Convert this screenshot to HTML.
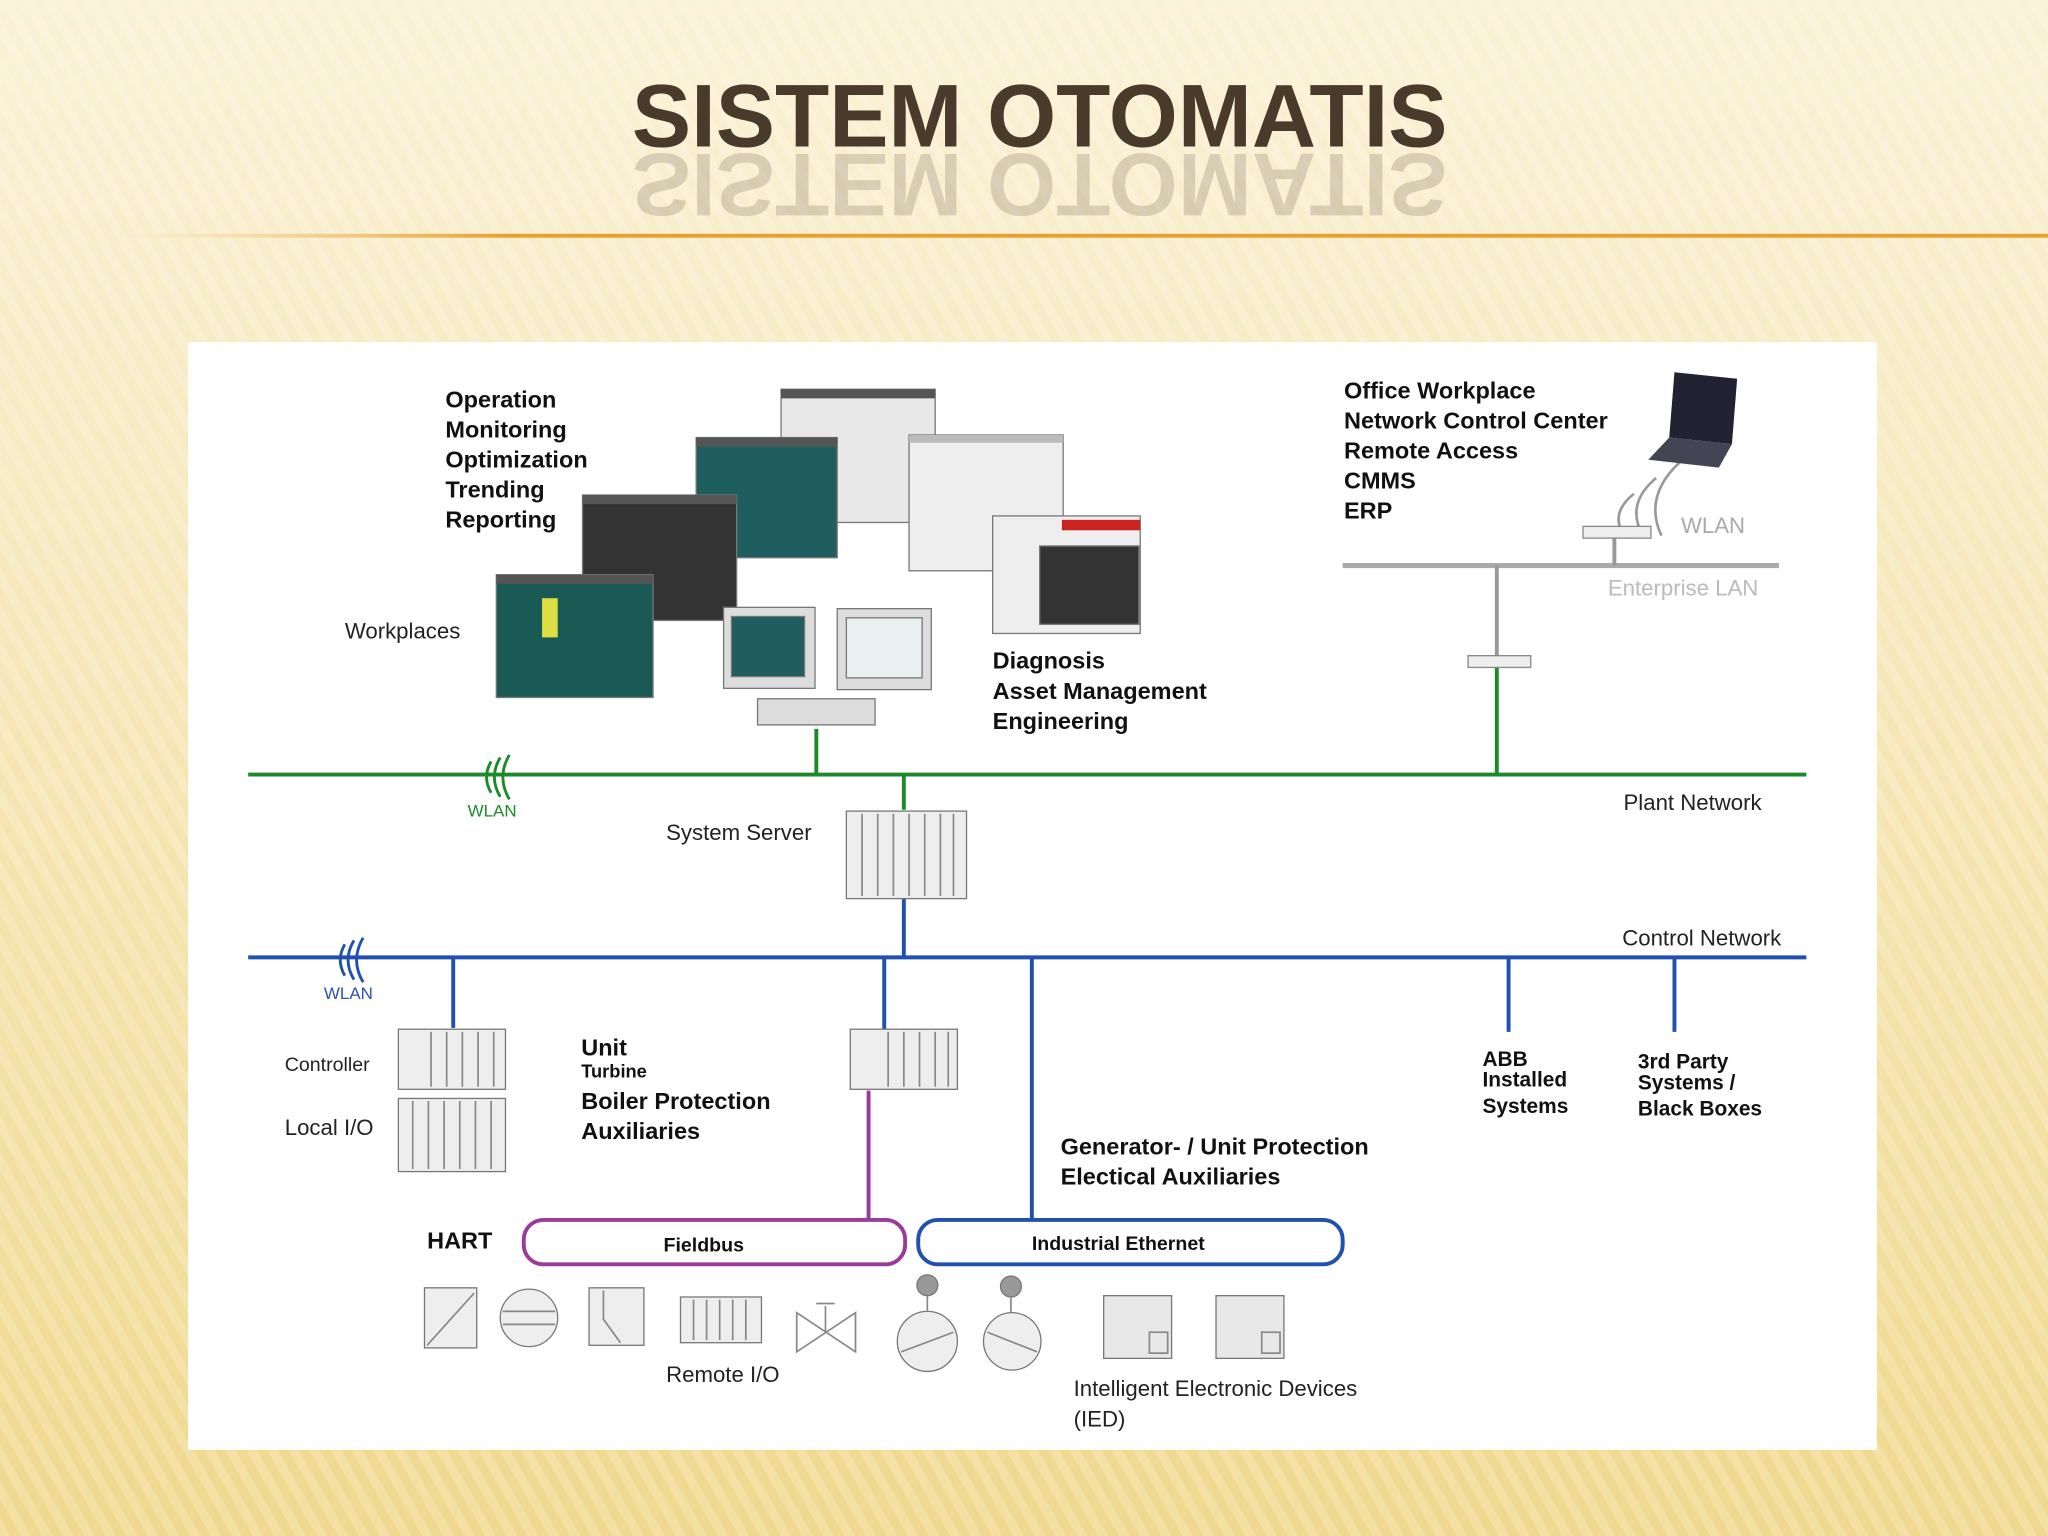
<!DOCTYPE html>
<html><head><meta charset="utf-8"><style>
html,body{margin:0;padding:0;width:2048px;height:1536px;overflow:hidden}
svg{display:block}
text{font-family:"Liberation Sans",Arial,sans-serif}
</style></head><body>
<svg width="2048" height="1536" viewBox="0 0 1568 1176" xmlns="http://www.w3.org/2000/svg">
<defs>
<linearGradient id="bg" x1="0" y1="0" x2="0" y2="1">
<stop offset="0" stop-color="#faf1d6"/><stop offset="0.5" stop-color="#f6e6b4"/><stop offset="1" stop-color="#f0d98e"/></linearGradient>
<pattern id="st" width="14" height="14" patternUnits="userSpaceOnUse" patternTransform="rotate(-30)">
<rect width="7" height="14" fill="#ffffff" opacity="0.18"/></pattern>
<linearGradient id="ol" x1="0" y1="0" x2="1" y2="0"><stop offset="0" stop-color="#f0c070" stop-opacity="0"/><stop offset="0.2" stop-color="#e8a030"/><stop offset="1" stop-color="#e8a030"/></linearGradient>
</defs>
<rect width="1568" height="1176" fill="url(#bg)"/>
<rect width="1568" height="1176" fill="url(#st)"/>
<text x="796" y="112" text-anchor="middle" font-size="68" font-weight="bold" fill="#4a3a2c">SISTEM OTOMATIS</text>
<g transform="translate(0,236) scale(1,-1)"><text x="796" y="118" text-anchor="middle" font-size="68" font-weight="bold" fill="#5a4a3a" opacity="0.2">SISTEM OTOMATIS</text></g>
<rect x="95" y="179" width="1473" height="3" fill="url(#ol)"/>
<rect x="144" y="262" width="1293" height="848" fill="#fff"/>

<g font-weight="bold" font-size="18" fill="#111">
<text x="341" y="312">Operation</text><text x="341" y="335">Monitoring</text><text x="341" y="358">Optimization</text><text x="341" y="381">Trending</text><text x="341" y="404">Reporting</text>
<text x="1029" y="305">Office Workplace</text><text x="1029" y="328">Network Control Center</text><text x="1029" y="351">Remote Access</text><text x="1029" y="374">CMMS</text><text x="1029" y="397">ERP</text>
<text x="760" y="512">Diagnosis</text><text x="760" y="535">Asset Management</text><text x="760" y="558">Engineering</text>
<text x="445" y="808">Unit</text><text x="445" y="825" font-size="14">Turbine</text><text x="445" y="849">Boiler Protection</text><text x="445" y="872">Auxiliaries</text>
<text x="812" y="884">Generator- / Unit Protection</text><text x="812" y="907">Electical Auxiliaries</text>
<text x="1135" y="816" font-size="16">ABB</text><text x="1135" y="832" font-size="16">Installed</text><text x="1135" y="852" font-size="16">Systems</text>
<text x="1254" y="818" font-size="16">3rd Party</text><text x="1254" y="834" font-size="16">Systems /</text><text x="1254" y="854" font-size="16">Black Boxes</text>
<text x="327" y="956">HART</text>
<text x="508" y="958" font-size="15">Fieldbus</text><text x="790" y="957" font-size="15">Industrial Ethernet</text>
</g>
<g font-size="17" fill="#222">
<text x="264" y="489">Workplaces</text>
<text x="510" y="643">System Server</text>
<text x="1243" y="620">Plant Network</text>
<text x="1242" y="724">Control Network</text>
<text x="218" y="820" font-size="15">Controller</text>
<text x="218" y="869">Local I/O</text>
<text x="510" y="1058">Remote I/O</text>
<text x="822" y="1069">Intelligent Electronic Devices</text>
<text x="822" y="1092">(IED)</text>
<text x="1287" y="408" fill="#aaa">WLAN</text>
<text x="1231" y="456" fill="#bbb">Enterprise LAN</text>
</g>
<text x="358" y="625" font-size="13" fill="#1a8a2a">WLAN</text>
<text x="248" y="765" font-size="13" fill="#3050b0">WLAN</text>

<g fill="none">
<line x1="1028" y1="433" x2="1362" y2="433" stroke="#aaa" stroke-width="4"/>
<line x1="1146" y1="433" x2="1146" y2="503" stroke="#999" stroke-width="3"/>
<line x1="1236" y1="410" x2="1236" y2="433" stroke="#999" stroke-width="3"/>
<g stroke="#1a8a2a" stroke-width="3">
<line x1="190" y1="593" x2="1383" y2="593"/><line x1="625" y1="558" x2="625" y2="593"/><line x1="692" y1="593" x2="692" y2="620"/><line x1="1146" y1="510" x2="1146" y2="593"/>
<path d="M376 583 q-7 12 0 24 M383 580 q-9 15 0 30 M390 578 q-10 17 0 34" stroke-width="2.2"/>
</g>
<g stroke="#2050b0" stroke-width="3">
<line x1="190" y1="733" x2="1383" y2="733"/><line x1="692" y1="688" x2="692" y2="733"/>
<line x1="347" y1="733" x2="347" y2="787"/><line x1="677" y1="733" x2="677" y2="788"/><line x1="790" y1="733" x2="790" y2="935"/>
<line x1="1155" y1="733" x2="1155" y2="790"/><line x1="1282" y1="733" x2="1282" y2="790"/>
<path d="M264 723 q-7 12 0 24 M271 720 q-9 15 0 30 M278 718 q-10 17 0 34" stroke-width="2.2"/>
</g>
<line x1="665" y1="835" x2="665" y2="935" stroke="#9a3a9a" stroke-width="3"/>
<rect x="401" y="934" width="292" height="34" rx="15" stroke="#9a3a9a" stroke-width="3"/>
<rect x="703" y="934" width="325" height="34" rx="15" stroke="#2050b0" stroke-width="3"/>
<path d="M1245 412 q-14 -18 6 -34 M1258 410 q-14 -24 10 -44 M1272 410 q-14 -30 14 -56" stroke="#999" stroke-width="2"/>
</g>
<rect x="1212" y="403" width="52" height="9" fill="#eee" stroke="#888"/>
<rect x="1124" y="502" width="48" height="9" fill="#eee" stroke="#888"/>
<path d="M1282 285 L1330 290 L1326 340 L1278 335 Z" fill="#223"/>
<path d="M1278 335 L1326 340 L1316 358 L1262 352 Z" fill="#445"/>

<g stroke="#777" stroke-width="1">
<rect x="598" y="298" width="118" height="102" fill="#e8e8e8"/>
<rect x="696" y="333" width="118" height="104" fill="#eeeeee"/>
<rect x="760" y="395" width="113" height="90" fill="#eee"/>
<rect x="796" y="418" width="76" height="60" fill="#333"/>
<rect x="533" y="335" width="108" height="92" fill="#1e5e5e"/>
<rect x="446" y="379" width="118" height="96" fill="#333"/>
<rect x="380" y="440" width="120" height="94" fill="#1a5a55"/>
<rect x="554" y="465" width="70" height="62" fill="#ddd"/><rect x="560" y="472" width="56" height="46" fill="#1e5e5e"/>
<rect x="641" y="466" width="72" height="62" fill="#ddd"/><rect x="648" y="473" width="58" height="46" fill="#e8f0f0"/>
<rect x="580" y="535" width="90" height="20" fill="#ddd"/>
</g>
<rect x="598" y="298" width="118" height="7" fill="#555"/><rect x="533" y="335" width="108" height="7" fill="#555"/>
<rect x="446" y="379" width="118" height="7" fill="#555"/><rect x="380" y="440" width="120" height="7" fill="#555"/>
<rect x="696" y="333" width="118" height="6" fill="#bbb"/><rect x="813" y="398" width="60" height="8" fill="#c22"/>
<rect x="415" y="458" width="12" height="30" fill="#dd4"/>

<g fill="#eee" stroke="#777">
<rect x="648" y="621" width="92" height="67"/>
<rect x="305" y="788" width="82" height="46"/><rect x="305" y="841" width="82" height="56"/>
<rect x="651" y="788" width="82" height="46"/>
<rect x="521" y="993" width="62" height="35"/>
<rect x="845" y="992" width="52" height="48" fill="#e8e8e8"/><rect x="931" y="992" width="52" height="48" fill="#e8e8e8"/>
<rect x="325" y="986" width="40" height="46"/><rect x="451" y="986" width="42" height="44"/>
<circle cx="405" cy="1009" r="22"/>
<circle cx="710" cy="1027" r="23"/><circle cx="775" cy="1027" r="22"/>
<circle cx="710" cy="984" r="8" fill="#999"/><circle cx="774" cy="985" r="8" fill="#999"/>
</g>
<g stroke="#888" stroke-width="1.3" fill="none">
<path d="M660 623 V686 M672 623 V686 M684 623 V686 M696 623 V686 M708 623 V686 M720 623 V686 M730 623 V686"/>
<path d="M330 790 V832 M342 790 V832 M354 790 V832 M366 790 V832 M378 790 V832"/>
<path d="M316 843 V895 M328 843 V895 M340 843 V895 M352 843 V895 M364 843 V895 M376 843 V895"/>
<path d="M680 790 V832 M692 790 V832 M704 790 V832 M716 790 V832 M726 790 V832"/>
<path d="M531 995 V1026 M541 995 V1026 M551 995 V1026 M561 995 V1026 M571 995 V1026"/>
<path d="M327 1030 L363 990 M385 1004 H425 M385 1014 H425 M462 988 V1010 L475 1028"/>
<path d="M610 1005 L655 1035 V1005 L610 1035 Z M632 1020 V1000 M625 998 h14"/>
<path d="M710 992 V1004 M774 993 V1005 M690 1035 L730 1020 M756 1020 L794 1035"/>
<rect x="880" y="1020" width="14" height="16"/><rect x="966" y="1020" width="14" height="16"/>
</g>
</svg>
</body></html>
